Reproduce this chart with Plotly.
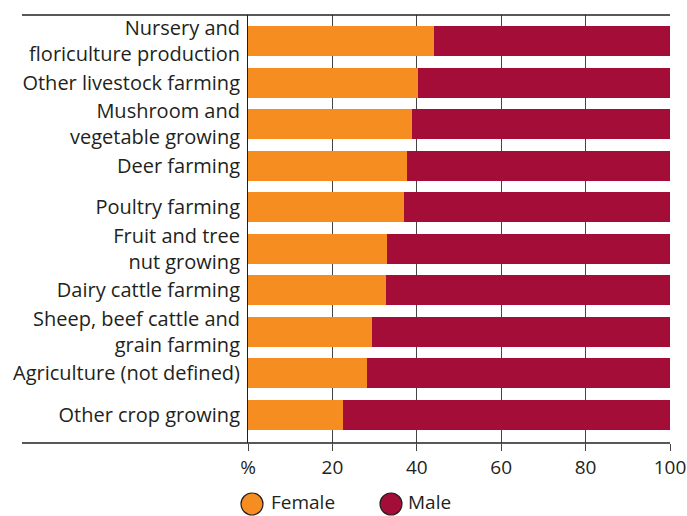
import plotly.graph_objects as go

categories = [
    "Nursery and<br>floriculture production",
    "Other livestock farming",
    "Mushroom and<br>vegetable growing",
    "Deer farming",
    "Poultry farming",
    "Fruit and tree<br>nut growing",
    "Dairy cattle farming",
    "Sheep, beef cattle and<br>grain farming",
    "Agriculture (not defined)",
    "Other crop growing",
]
female = [44.0, 40.2, 38.8, 37.6, 37.0, 32.9, 32.6, 29.3, 28.1, 22.5]
male = [round(100 - f, 1) for f in female]
x_tickvals = [0, 20, 40, 60, 80, 100]
x_ticktext = ["%", "20", "40", "60", "80", "100"]

FEMALE_C = "#F68D21"
MALE_C = "#A30D37"
TEXT_C = "#231F20"
FONT = "Open Sans"

ypos = list(range(len(categories)))

fig = go.Figure()
fig.add_trace(go.Bar(y=ypos, x=female, orientation="h", marker=dict(color=FEMALE_C, line=dict(width=0)),
                     width=0.72, name="Female", showlegend=False))
fig.add_trace(go.Bar(y=ypos, x=male, orientation="h", marker=dict(color=MALE_C, line=dict(width=0)),
                     width=0.72, name="Male", showlegend=False))

fig.update_layout(
    barmode="stack",
    width=687, height=516,
    margin=dict(l=248, r=17, t=15, b=73, autoexpand=False),
    paper_bgcolor="white", plot_bgcolor="white",
    font=dict(family=FONT, color=TEXT_C, size=20),
)
fig.update_xaxes(
    range=[0, 100], tickvals=x_tickvals, ticktext=x_ticktext,
    showgrid=True, gridcolor="#444444", gridwidth=1,
    ticks="outside", ticklen=7, tickcolor="#444444", tickwidth=1,
    tickfont=dict(size=19, color=TEXT_C), zeroline=False, showline=False,
)
fig.update_yaxes(
    range=[9.675, -0.626], tickvals=ypos, ticktext=categories,
    showgrid=False, zeroline=False, showline=True, linecolor="#231F20", linewidth=1,
    ticks="", tickfont=dict(size=20, color=TEXT_C), ticklabelstandoff=3,
)

# top and bottom rules spanning into the label area
x_left = (22 - 248) / 422
for yv in [0, 1]:
    fig.add_shape(type="line", xref="paper", yref="paper", x0=x_left, x1=1, y0=yv, y1=yv,
                  line=dict(color="#231F20", width=1.5))

# legend drawn manually (large circle swatches)
legend_items = [("Female", FEMALE_C, 252, 269), ("Male", MALE_C, 391, 406)]
ly_circle = (443 - 504) / 428
ly_text = (443 - 502) / 428
for name, col, cx, tx in legend_items:
    fig.add_shape(type="circle", xref="paper", yref="paper", xsizemode="pixel", ysizemode="pixel",
                  xanchor=(cx - 248) / 422, yanchor=ly_circle, x0=-11, x1=11, y0=-11, y1=11,
                  fillcolor=col, line=dict(color="#231F20", width=1.2))
    fig.add_annotation(xref="paper", yref="paper", x=(tx - 248) / 422, y=ly_text, text=name,
                       showarrow=False, xanchor="left", yanchor="middle",
                       font=dict(size=19, color=TEXT_C, family=FONT))

fig.write_html("out.html", config={"displayModeBar": False},
               post_script="document.body.style.margin='0';document.body.style.overflow='hidden';")
